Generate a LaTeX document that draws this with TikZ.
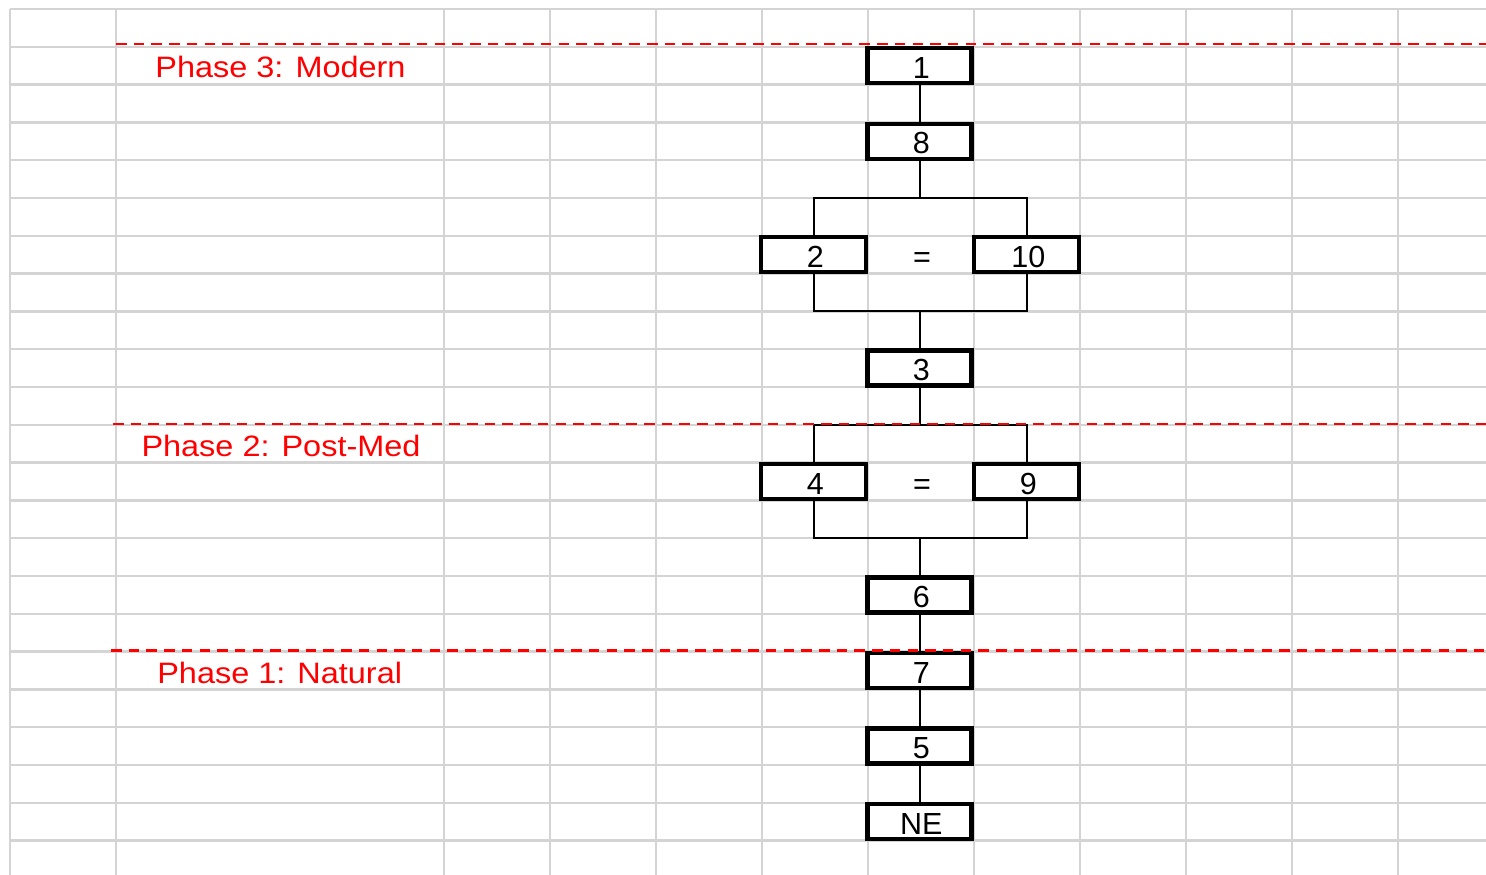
\documentclass[tikz,border=0pt]{standalone}
\usepackage{fontspec}
\setmainfont{Liberation Sans}
\newfontfamily\phasefont[FakeStretch=1.1]{Liberation Sans}
\definecolor{gridgray}{RGB}{212,212,212}
\definecolor{phasered}{RGB}{255,0,0}
\begin{document}
\begin{tikzpicture}[x=1pt,y=-1pt,
  gridline/.style={draw=gridgray, line width=2.5pt},
  box/.style={draw=black, line width=4.5pt, fill=white, minimum width=104pt, minimum height=35pt,
    inner sep=0pt, text height=25.2pt, text depth=0pt, font=\fontsize{30.5}{30.5}\selectfont,
    execute at begin node=\hspace*{3.5pt}},
  eqsign/.style={inner sep=0pt, minimum height=35pt, text height=25.2pt, text depth=0pt,
    font=\fontsize{30.5}{30.5}\selectfont},
  link/.style={draw=black, line width=2pt},
  phaseline/.style={draw=phasered, line width=2.3pt, dash pattern=on 10.5pt off 7.2pt},
  phaselabel/.style={text=phasered, font=\phasefont\fontsize{29.5}{29.5}\selectfont, anchor=base, inner sep=0pt}]
\useasboundingbox (0,0) rectangle (1486,875);
\fill[white] (0,0) rectangle (1486,875);
% grid
\foreach \k in {0,...,22} {
  \draw[gridline] (10,{9+37.8*\k}) -- (1486,{9+37.8*\k});
}
\foreach \x in {10,116,444,550,656,762,868,974,1080,1186,1292,1398} {
  \draw[gridline] (\x,9) -- (\x,875);
}
% nodes
\node[box] (n1) at (919.5,65.7) {1};
\node[box] (n8) at (919.5,141.3) {8};
\node[box, minimum width=105pt] (n2) at (813.5,254.7) {2};
\node[eqsign] (eq1) at (922,254.7) {=};
\node[box, minimum width=105pt] (n10) at (1026.5,254.7) {10};
\node[box] (n3) at (919.5,368.1) {3};
\node[box, minimum width=105pt] (n4) at (813.5,481.5) {4};
\node[eqsign] (eq2) at (922,481.5) {=};
\node[box, minimum width=105pt] (n9) at (1026.5,481.5) {9};
\node[box] (n6) at (919.5,594.9) {6};
\node[box] (n7) at (919.5,670.5) {7};
\node[box] (n5) at (919.5,746.1) {5};
\node[box] (nNE) at (919.5,821.7) {NE};
% bracket junctions
\coordinate (t1) at (919.5,197.5);
\coordinate (u1) at (919.5,311);
\coordinate (t2) at (919.5,425);
\coordinate (u2) at (919.5,538);
% connectors
\draw[link] (n1.south) -- (n8.north);
\draw[link] (n8.south) -- (t1);
\draw[link] (n2.north) -- (n2.north |- t1) -- (n10.north |- t1) -- (n10.north);
\draw[link] (n2.south) -- (n2.south |- u1) -- (n10.south |- u1) -- (n10.south);
\draw[link] (u1) -- (n3.north);
\draw[link] (n3.south) -- (t2);
\draw[link] (n4.north) -- (n4.north |- t2) -- (n9.north |- t2) -- (n9.north);
\draw[link] (n4.south) -- (n4.south |- u2) -- (n9.south |- u2) -- (n9.south);
\draw[link] (u2) -- (n6.north);
\draw[link] (n6.south) -- (n7.north);
\draw[link] (n7.south) -- (n5.north);
\draw[link] (n5.south) -- (nNE.north);
% phase lines and labels
\draw[phaseline] (116,44.3) -- (1486,44.3);
\draw[phaseline] (113,424.3) -- (1486,424.3);
\draw[phaseline] (111,650.5) -- (1486,650.5);
\node[phaselabel] (p3) at (280.5,77.7) {Phase 3: Modern};
\node[phaselabel] (p2) at (281,456) {Phase 2: Post-Med};
\node[phaselabel] (p1) at (279.7,683) {Phase 1: Natural};
\end{tikzpicture}
\end{document}
